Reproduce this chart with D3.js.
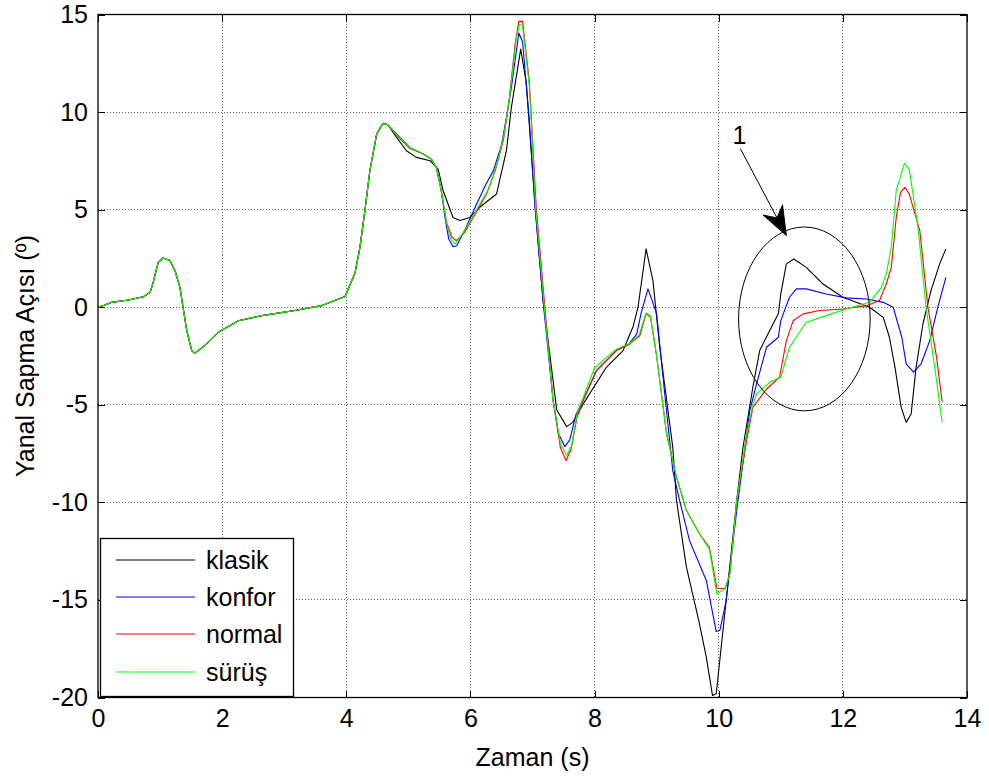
<!DOCTYPE html>
<html>
<head>
<meta charset="utf-8">
<script src="https://cdn.jsdelivr.net/npm/d3@7"></script>
<style>
  html, body { margin: 0; padding: 0; background: #fff; }
  svg { display: block; font-family: "Liberation Sans", Arial, sans-serif; }
</style>
</head>
<body>
<svg id="chart" width="989" height="776"></svg>
<script>
// Yanal sapma açısı (derece) — zaman (s) için dört sürüş modu

const xTicks = [0, 2, 4, 6, 8, 10, 12, 14];
const yTicks = [15, 10, 5, 0, -5, -10, -15, -20];

// Ortak başlangıç bölümü (tüm modlar neredeyse aynı)
const ortak = [
  [0,0],[0.1,0.1],[0.22,0.25],[0.49,0.37],[0.73,0.54],[0.84,0.76],[0.89,1.28],[0.97,2.3],
  [1.05,2.52],[1.16,2.39],[1.24,1.88],[1.32,1.02],[1.37,0],[1.43,-1.2],[1.51,-2.22],[1.56,-2.36],
  [1.72,-1.97],[1.94,-1.28],[2.26,-0.69],[2.64,-0.43],[3.17,-0.17],[3.60,0.08],[3.98,0.55],
  [4.14,1.75],[4.22,3.07],[4.30,4.95],[4.38,7.0],[4.49,8.88],[4.59,9.42],[4.67,9.35]
];

const klasik = [
  [4.81,8.7],[4.97,8.02],[5.13,7.68],[5.35,7.51],[5.48,7.08],[5.56,5.97],[5.72,4.6],[5.83,4.44],
  [5.99,4.6],[6.15,5.12],[6.42,5.8],[6.58,8.02],[6.66,10.24],[6.81,13.23],[6.9,11.5],[7.04,5.3],
  [7.17,0.34],[7.39,-5.25],[7.55,-6.12],[7.65,-5.9],[7.82,-4.94],[8.19,-3.08],[8.46,-2.22],
  [8.57,-1.37],[8.62,-1.0],[8.70,0],[8.83,2.99],[8.94,1.36],[9.05,-2.05],[9.26,-7.18],[9.32,-9.91],
  [9.48,-13.32],[9.69,-16.22],[9.80,-17.93],[9.90,-19.9],[9.96,-19.81],[10.12,-15.03],[10.29,-9.91],
  [10.39,-7.2],[10.55,-4.1],[10.66,-2.22],[10.82,-1.2],[10.96,-0.34],[11.0,0.68],[11.09,2.22],
  [11.21,2.47],[11.41,2.04],[11.68,1.19],[12.0,0.51],[12.43,0],[12.65,-0.52],[12.75,-1.54],
  [12.84,-3.08],[12.94,-5.13],[13.02,-5.9],[13.1,-5.47],[13.18,-3.08],[13.29,-0.86],[13.42,0.85],
  [13.56,2.22],[13.66,2.99]
];

const konfor = [
  [4.81,8.88],[5.02,8.19],[5.24,7.85],[5.37,7.6],[5.45,7.17],[5.53,5.97],[5.59,4.6],[5.65,3.5],
  [5.72,3.1],[5.78,3.15],[5.9,3.9],[6.1,5.29],[6.25,6.3],[6.37,7.0],[6.5,8.3],[6.58,9.73],
  [6.66,11.27],[6.78,14.05],[6.84,13.6],[6.95,9.5],[7.04,5.12],[7.17,0.34],[7.33,-4.74],
  [7.42,-6.5],[7.52,-7.14],[7.6,-6.8],[7.7,-5.5],[7.82,-4.74],[8.03,-3.25],[8.35,-2.22],
  [8.55,-1.9],[8.68,-1.37],[8.75,-0.3],[8.86,0.94],[8.92,0.4],[9.0,-0.34],[9.1,-3.5],[9.26,-8.37],
  [9.37,-9.91],[9.53,-11.96],[9.80,-14.0],[9.96,-16.62],[10.02,-16.55],[10.12,-15.03],
  [10.29,-10.42],[10.5,-5.3],[10.61,-3.93],[10.77,-2.05],[10.96,-1.54],[11.0,-0.69],[11.14,0.51],
  [11.25,0.94],[11.41,0.94],[11.73,0.68],[12.05,0.48],[12.38,0.42],[12.65,0.25],[12.81,0],
  [12.95,-1.54],[13.02,-2.9],[13.14,-3.33],[13.26,-2.9],[13.4,-1.71],[13.53,0],[13.66,1.53]
];

const normal = [
  [4.81,8.8],[5.02,8.15],[5.24,7.85],[5.37,7.6],[5.45,7.17],[5.53,5.97],[5.62,4.3],[5.70,3.6],
  [5.77,3.41],[5.9,3.8],[6.1,4.9],[6.26,5.8],[6.4,7.0],[6.53,8.54],[6.62,10.5],[6.72,13.5],
  [6.78,14.65],[6.84,14.65],[6.95,11.5],[7.06,5.12],[7.19,0.34],[7.33,-4.74],[7.45,-7.2],
  [7.54,-7.86],[7.62,-7.3],[7.72,-5.6],[7.82,-4.74],[8.03,-3.25],[8.35,-2.22],[8.57,-1.88],
  [8.73,-1.45],[8.83,-0.34],[8.9,-0.5],[9.0,-2.5],[9.16,-6.49],[9.32,-8.71],[9.48,-10.42],
  [9.69,-11.61],[9.85,-12.3],[9.97,-14.4],[10.1,-14.43],[10.18,-13.66],[10.29,-9.91],
  [10.45,-6.83],[10.55,-5.13],[10.77,-4.19],[10.98,-3.59],[11.09,-1.71],[11.2,-0.69],
  [11.36,-0.34],[11.63,-0.17],[12.0,-0.09],[12.38,0.08],[12.59,0.34],[12.70,1.19],[12.78,2.04],
  [12.86,4.6],[12.93,5.9],[13.0,6.14],[13.07,5.8],[13.24,3.92],[13.37,0],[13.51,-2.57],[13.60,-4.87]
];

const surus = [
  [4.81,8.85],[5.02,8.18],[5.24,7.85],[5.37,7.6],[5.45,7.17],[5.53,5.97],[5.61,4.4],[5.68,3.5],
  [5.75,3.24],[5.88,3.8],[6.1,5.0],[6.3,6.1],[6.45,7.6],[6.55,9.0],[6.64,11.0],[6.74,13.8],
  [6.79,14.48],[6.84,14.45],[6.95,11.3],[7.05,5.12],[7.18,0.34],[7.33,-4.74],[7.45,-7.0],
  [7.55,-7.6],[7.63,-7.1],[7.72,-5.4],[7.82,-4.6],[8.0,-3.1],[8.35,-2.15],[8.57,-1.85],
  [8.72,-1.4],[8.83,-0.3],[8.9,-0.45],[9.0,-2.5],[9.16,-6.49],[9.32,-8.71],[9.48,-10.42],
  [9.69,-11.61],[9.85,-12.4],[9.97,-14.69],[10.1,-14.43],[10.18,-13.66],[10.29,-9.91],
  [10.45,-6.5],[10.55,-5.0],[10.61,-4.44],[10.82,-3.85],[11.0,-3.59],[11.14,-2.05],[11.41,-0.77],
  [11.73,-0.43],[12.05,-0.09],[12.43,0.25],[12.62,1.02],[12.70,1.71],[12.78,3.07],[12.86,5.97],
  [12.99,7.37],[13.07,7.08],[13.21,4.09],[13.34,0],[13.48,-3.08],[13.60,-5.9]
];

const seriesNames = ["klasik", "konfor", "normal", "sürüş"];
const seriesColors = ["#000000", "#0000ff", "#ff0000", "#00ff00"];
const seriesValues = [klasik, konfor, normal, surus].map(s => ortak.concat(s));

// "1" işaretli bölge: elips merkezi ve yarıçapları (veri birimi), ok başlangıç/bitiş
const bolgeMerkez = [11.38, -0.6];
const bolgeYaricap = [1.06, 4.71];
const okBaslangic = [10.35, 8.12];
const okBitis = [11.09, 3.67];
const okEtiket = "1";

const FS = 25; // yazı boyutu
const svg = d3.select("#chart");
const M = { left: 98, right: 967, top: 14.5, bottom: 697.5 };

const x = d3.scaleLinear().domain([0, 14]).range([M.left, M.right]);
const y = d3.scaleLinear().domain([-20, 15]).range([M.bottom, M.top]);

// Izgara
const grid = svg.append("g");
grid.selectAll("line.gx").data(xTicks.slice(1, -1)).join("line")
  .attr("x1", d => x(d)).attr("x2", d => x(d))
  .attr("y1", M.top).attr("y2", M.bottom)
  .attr("stroke", "#666").attr("stroke-width", 1).attr("stroke-dasharray", "1,2")
  .attr("shape-rendering", "crispEdges");
grid.selectAll("line.gy").data(yTicks.slice(1, -1)).join("line")
  .attr("y1", d => y(d)).attr("y2", d => y(d))
  .attr("x1", M.left).attr("x2", M.right)
  .attr("stroke", "#666").attr("stroke-width", 1).attr("stroke-dasharray", "1,2")
  .attr("shape-rendering", "crispEdges");

// Eksenler (içe dönük çentikler, dört kenarda)
const tickLen = 7;
const fmt = d => String(d);
const axB = svg.append("g").attr("transform", `translate(0,${M.bottom})`)
  .call(d3.axisBottom(x).tickValues(xTicks).tickSize(-tickLen).tickPadding(12).tickFormat(fmt));
const axT = svg.append("g").attr("transform", `translate(0,${M.top})`)
  .call(d3.axisTop(x).tickValues(xTicks).tickSize(-tickLen).tickFormat(""));
const axL = svg.append("g").attr("transform", `translate(${M.left},0)`)
  .call(d3.axisLeft(y).tickValues(yTicks).tickSize(-tickLen).tickPadding(10).tickFormat(fmt));
const axR = svg.append("g").attr("transform", `translate(${M.right},0)`)
  .call(d3.axisRight(y).tickValues(yTicks).tickSize(-tickLen).tickFormat(""));

[axB, axT, axL, axR].forEach(a => {
  a.select(".domain").remove();
  a.selectAll(".tick line").attr("stroke", "#000").attr("stroke-width", 1).attr("shape-rendering", "crispEdges");
  a.selectAll(".tick text").attr("font-size", FS).attr("fill", "#000")
    .attr("font-family", "'Liberation Sans', Arial, sans-serif");
});

// Eğriler
const line = d3.line().x(d => x(d[0])).y(d => y(d[1]));
const curves = svg.append("g");
seriesValues.forEach((vals, i) => {
  curves.append("path").datum(vals)
    .attr("d", line)
    .attr("fill", "none")
    .attr("stroke", seriesColors[i])
    .attr("stroke-width", 1.1)
    .attr("stroke-linejoin", "round");
});

// Eksen çerçevesi
svg.append("rect")
  .attr("x", M.left).attr("y", M.top)
  .attr("width", M.right - M.left).attr("height", M.bottom - M.top)
  .attr("fill", "none").attr("stroke", "#000").attr("stroke-width", 1.3);

// İşaretli bölge (elips + ok)
const annot = svg.append("g");
annot.append("ellipse")
  .attr("cx", x(bolgeMerkez[0])).attr("cy", y(bolgeMerkez[1]))
  .attr("rx", x(bolgeMerkez[0] + bolgeYaricap[0]) - x(bolgeMerkez[0]))
  .attr("ry", y(bolgeMerkez[1]) - y(bolgeMerkez[1] + bolgeYaricap[1]))
  .attr("fill", "none").attr("stroke", "#000").attr("stroke-width", 1);

const ax0 = x(okBaslangic[0]), ay0 = y(okBaslangic[1]);
const ax1 = x(okBitis[0]), ay1 = y(okBitis[1]);
const ang = Math.atan2(ay1 - ay0, ax1 - ax0);
const headLen = 20, headHalf = 11, notch = 9;
const cs = Math.cos(ang), sn = Math.sin(ang);
const bx = ax1 - headLen * cs, by = ay1 - headLen * sn;
const nx = -sn, ny = cs;
annot.append("line")
  .attr("x1", ax0).attr("y1", ay0).attr("x2", bx).attr("y2", by)
  .attr("stroke", "#000").attr("stroke-width", 1);
annot.append("path")
  .attr("d", `M${ax1},${ay1} L${bx + nx * headHalf - notch * cs},${by + ny * headHalf - notch * sn} L${bx},${by} L${bx - nx * headHalf - notch * cs},${by - ny * headHalf - notch * sn} Z`)
  .attr("fill", "#000").attr("stroke", "#000").attr("stroke-width", 1);
annot.append("text")
  .attr("x", ax0 - 1).attr("y", ay0 - 5)
  .attr("text-anchor", "middle").attr("font-size", FS).attr("fill", "#000")
  .text(okEtiket);

// Eksen başlıkları
svg.append("text")
  .attr("x", (M.left + M.right) / 2).attr("y", 766)
  .attr("text-anchor", "middle").attr("font-size", FS).attr("fill", "#000")
  .text("Zaman (s)");
svg.append("text")
  .attr("transform", `translate(34,${(M.top + M.bottom) / 2}) rotate(-90)`)
  .attr("text-anchor", "middle").attr("font-size", FS).attr("fill", "#000")
  .text("Yanal Sapma Açısı (º)");

// Gösterge
const legend = svg.append("g");
legend.append("rect")
  .attr("x", 100.5).attr("y", 538.5).attr("width", 193).attr("height", 158)
  .attr("fill", "#fff").attr("stroke", "#000").attr("stroke-width", 1.3);
const rowY = [560, 597, 634, 672];
seriesNames.forEach((name, i) => {
  legend.append("line")
    .attr("x1", 116).attr("x2", 195).attr("y1", rowY[i]).attr("y2", rowY[i])
    .attr("stroke", seriesColors[i]).attr("stroke-width", 1.1);
  legend.append("text")
    .attr("x", 206).attr("y", rowY[i]).attr("dy", "0.35em")
    .attr("font-size", FS).attr("fill", "#000")
    .text(name);
});
</script>
</body>
</html>
